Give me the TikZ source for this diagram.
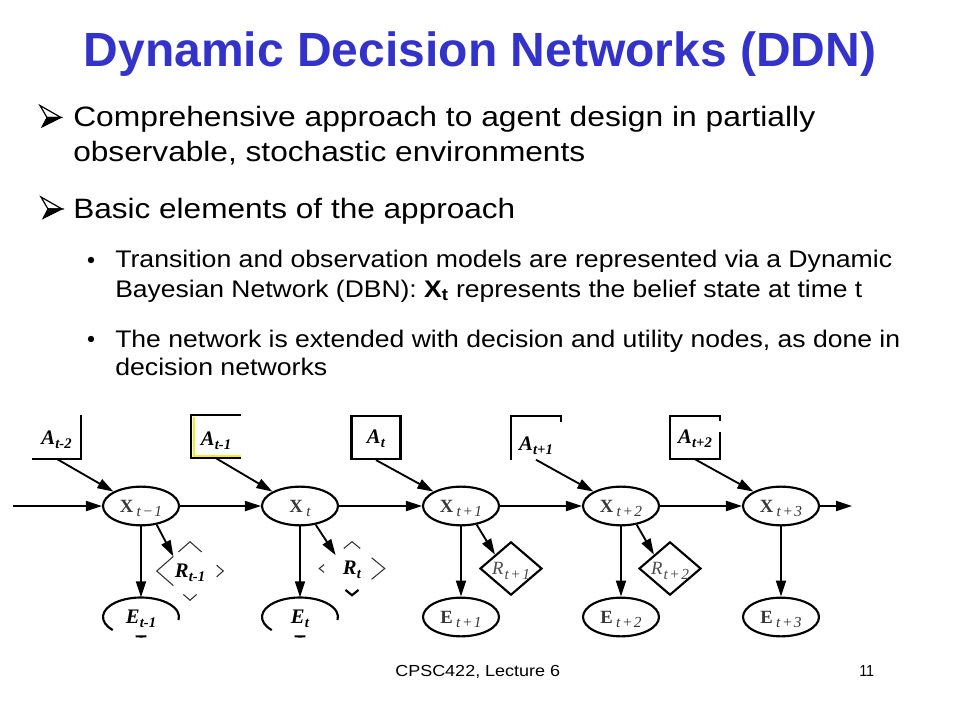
\documentclass[tikz,border=0pt]{standalone}
\usepackage{fontspec}
\setmainfont{Liberation Sans}
\newfontfamily\tnr{Liberation Serif}
\usepackage{graphicx}
\usetikzlibrary{shapes.geometric,arrows.meta,calc}
\definecolor{titleblue}{RGB}{51,51,204}
\definecolor{ylw}{RGB}{245,235,40}
\newdimen\pxu \pxu=0.75pt
% zero-size centred content
\newcommand\zs[2][4.5pt]{\makebox[0pt]{\raisebox{-#1}[0pt][0pt]{#2}}}
% bold italic label with bold italic subscript
\newcommand\bisub[2]{{\tnr\bfseries\itshape\fontsize{15.5}{17}\selectfont #1\kern0.2pt\raisebox{-3pt}{\fontsize{11}{12}\selectfont #2}}}
% bold upright letter with italic subscript
\newcommand\bxsub[2]{{\tnr\fontsize{14}{16}\selectfont\textbf{#1}\kern2.5pt\raisebox{-3.5pt}{\itshape\fontsize{11.5}{12}\selectfont #2}}}
% italic letter with italic subscript
\newcommand\irsub[2]{{\tnr\itshape\fontsize{14}{16}\selectfont #1\kern0.8pt\raisebox{-3.5pt}{\fontsize{11.5}{12}\selectfont #2}}}
\newcommand\mi{\kern1.2pt−\kern1.2pt}
\newcommand\pl{\kern1.2pt+\kern1.2pt}
\begin{document}
\begin{tikzpicture}[x=0.75pt,y=-0.75pt,
  xnode/.style={ellipse, draw, line width=1.6pt, minimum width=57pt, minimum height=29pt, inner sep=0pt, text=black!78},
  eblank/.style={ellipse, minimum width=57pt, minimum height=29pt, inner sep=0pt},
  abox/.style={rectangle, minimum width=36.75pt, minimum height=32.25pt, inner sep=0pt},
  aboxd/.style={abox, draw, line width=1.6pt},
  rshape/.style={diamond, minimum width=46.5pt, minimum height=40pt, inner sep=0pt},
  rdia/.style={rshape, draw, line width=1.6pt, text=black!70},
  arr/.style={line width=1.4pt, -{Triangle[length=12pt,width=7.5pt]}},
  edge/.style={line width=1.6pt},
  frag/.style={line width=0.8pt, black!80},
  txt/.style={anchor=base west, inner sep=0pt}
]
\fill[white] (0,0) rectangle (960,720);
\useasboundingbox (0,0) rectangle (960,720);

% ---------- title ----------
\node[anchor=base, inner sep=0pt, text=titleblue, font=\fontsize{36}{43}\selectfont\bfseries] (title) at (480,67) {Dynamic Decision Networks (DDN)};

% ---------- bullets ----------
\begin{scope}[shift={(50,116.5)}]
  \filldraw[line width=0.8pt, line join=miter] (-3,1) -- (11,1) -- (-8,10.5) -- cycle;
  \draw[line width=0.9pt, line join=miter] (-10,-11) -- (11,1) -- (-3,1) -- cycle;
\end{scope}
\begin{scope}[shift={(51,208)}]
  \filldraw[line width=0.8pt, line join=miter] (-3,1) -- (11,1) -- (-8,10.5) -- cycle;
  \draw[line width=0.9pt, line join=miter] (-10,-11) -- (11,1) -- (-3,1) -- cycle;
\end{scope}
\fill (91,260) circle[radius=3.2];
\fill (91,339) circle[radius=3.2];

\node[txt] (l1) at (73,127) {\resizebox{742\pxu}{\height}{\fontsize{21}{25}\selectfont Comprehensive approach to agent design in partially}};
\node[txt] (l2) at (73,162) {\resizebox{512\pxu}{\height}{\fontsize{21}{25}\selectfont observable, stochastic environments}};
\node[txt] (l3) at (73,219) {\resizebox{442\pxu}{\height}{\fontsize{21}{25}\selectfont Basic elements of the approach}};
\node[txt] (l4) at (115,268) {\resizebox{777\pxu}{\height}{\fontsize{18}{22}\selectfont Transition and observation models are represented via a Dynamic}};
\node[txt] (l5) at (115,297) {\resizebox{747\pxu}{\height}{\fontsize{18}{22}\selectfont Bayesian Network (DBN): \textbf{X\textsubscript{t}} represents the belief state at time t}};
\node[txt] (l6) at (115,347) {\resizebox{785\pxu}{\height}{\fontsize{18}{22}\selectfont The network is extended with decision and utility nodes, as done in}};
\node[txt] (l7) at (115,375) {\resizebox{212\pxu}{\height}{\fontsize{18}{22}\selectfont decision networks}};

% ---------- footer ----------
\node[txt] (foot) at (395,676) {\resizebox{165\pxu}{\height}{\fontsize{12}{14}\selectfont CPSC422, Lecture 6}};
\node[txt] (page) at (859,676) {\resizebox{15\pxu}{\height}{\fontsize{12}{14}\selectfont 11}};

% ---------- state nodes ----------
\node[xnode] (X1) at (141,506) {\zs{\bxsub{X}{t\mi1}}};
\node[xnode] (X2) at (300,506) {\zs{\bxsub{X}{t}}};
\node[xnode] (X3) at (461,506) {\zs{\bxsub{X}{t\pl1}}};
\node[xnode] (X4) at (621,506) {\zs{\bxsub{X}{t\pl2}}};
\node[xnode] (X5) at (781,506) {\zs{\bxsub{X}{t\pl3}}};

% ---------- evidence nodes ----------
\node[eblank] (E1) at (141,617) {\zs{\bisub{E}{t-1}}};
\node[eblank] (E2) at (300,617) {\zs{\bisub{E}{t}}};
\node[xnode] (E3) at (461,617) {\zs{\bxsub{E}{t\pl1}}};
\node[xnode] (E4) at (621,617) {\zs{\bxsub{E}{t\pl2}}};
\node[xnode] (E5) at (781,617) {\zs{\bxsub{E}{t\pl3}}};
\foreach \e in {E1,E2}{
  \draw[edge] ($(\e.center)+(138:38 and 19.5)$) arc[start angle=138, end angle=369, x radius=38, y radius=19.5];
  \draw[edge] ($(\e.center)+(82:38 and 19.5)$) arc[start angle=82, end angle=98, x radius=38, y radius=19.5];
}

% ---------- action nodes ----------
\node[abox] (A0) at (56.5,437) {\zs[5.5pt]{\bisub{A}{t-2}}};
\node[abox] (A1) at (216,436.5) {\zs[7pt]{\bisub{A}{t-1}}};
\node[aboxd] (A2) at (376,437.5) {\zs[4.5pt]{\bisub{A}{t}}};
\node[abox] (A3) at (536,438) {\zs[9.5pt]{\bisub{A}{t+1}}};
\node[abox] (A4) at (695,437.5) {\zs[4.5pt]{\bisub{A}{t+2}}};
\draw[edge] (A0.north east) -- (A0.south east) -- (A0.south west);
\draw[ylw, line width=1.2pt] ($(A1.north west)+(2.6,2.5)$) -- ($(A1.south west)+(2.6,-2.4)$) -- ($(A1.south east)+(0,-2.4)$);
\draw[edge] (A1.north east) -- (A1.north west) -- (A1.south west) -- (A1.south east);
\draw[edge] (A3.south west) -- (A3.north west) -- (A3.north east) -- ($(A3.north east)+(0,6)$);
\draw[edge] ($(A4.north east)+(0,5)$) -- (A4.north east) -- (A4.north west) -- (A4.south west) -- (A4.south east) -- ($(A4.south east)+(0,-27)$);

% ---------- utility nodes ----------
\node[rshape, minimum width=49.5pt, minimum height=43.5pt] (R1) at (190,571) {\zs{\bisub{R}{t-1}}};
\node[rshape, minimum width=48.75pt, minimum height=39.75pt] (R2) at (352,568.5) {\zs{\bisub{R}{t}}};
\node[rdia] (R3) at (511,568.5) {\zs{\irsub{R}{t\pl1}}};
\node[rdia] (R4) at (670,568.5) {\zs{\irsub{R}{t\pl2}}};
% fragments of R_{t-1}
\draw[frag] ($(R1.north)!0.35!(R1.west)$) -- (R1.north) -- ($(R1.north)!0.35!(R1.east)$);
\draw[frag] ($(R1.west)!0.5!(R1.north)$) -- (R1.west) -- ($(R1.west)!0.5!(R1.south)$);
\draw[frag] ($(R1.east)!0.2!(R1.north)$) -- (R1.east) -- ($(R1.east)!0.2!(R1.south)$);
\draw[frag] ($(R1.south)!0.2!(R1.west)$) -- (R1.south) -- ($(R1.south)!0.2!(R1.east)$);
% fragments of R_t
\draw[frag] ($(R2.north)!0.25!(R2.west)$) -- (R2.north) -- ($(R2.north)!0.25!(R2.east)$);
\draw[frag] ($(R2.west)!0.15!(R2.north)$) -- (R2.west) -- ($(R2.west)!0.15!(R2.south)$);
\draw[frag] ($(R2.east)!0.4!(R2.north)$) -- (R2.east) -- ($(R2.east)!0.4!(R2.south)$);
\draw[edge] ($(R2.south)!0.2!(R2.west)$) -- (R2.south) -- ($(R2.south)!0.2!(R2.east)$);

% ---------- connectors ----------
\coordinate (in) at (13,506);
\coordinate (out) at (852,506);
\draw[arr] (in) -- (X1.west);
\draw[arr] (X1.east) -- (X2.west);
\draw[arr] (X2.east) -- (X3.west);
\draw[arr] (X3.east) -- (X4.west);
\draw[arr] (X4.east) -- (X5.west);
\draw[arr] (X5.east) -- (out);
\foreach \a/\x in {A0/X1,A1/X2,A2/X3,A3/X4,A4/X5}{
  \draw[arr] (\a.south) -- (\x.north west);
}
\foreach \x/\e in {X1/E1,X2/E2,X3/E3,X4/E4,X5/E5}{
  \draw[arr] (\x.south) -- (\e.north);
}
\foreach \x/\r in {X1/R1,X2/R2,X3/R3,X4/R4}{
  \draw[arr] (\x.-50) -- (\r.north west);
}
\end{tikzpicture}
\end{document}
